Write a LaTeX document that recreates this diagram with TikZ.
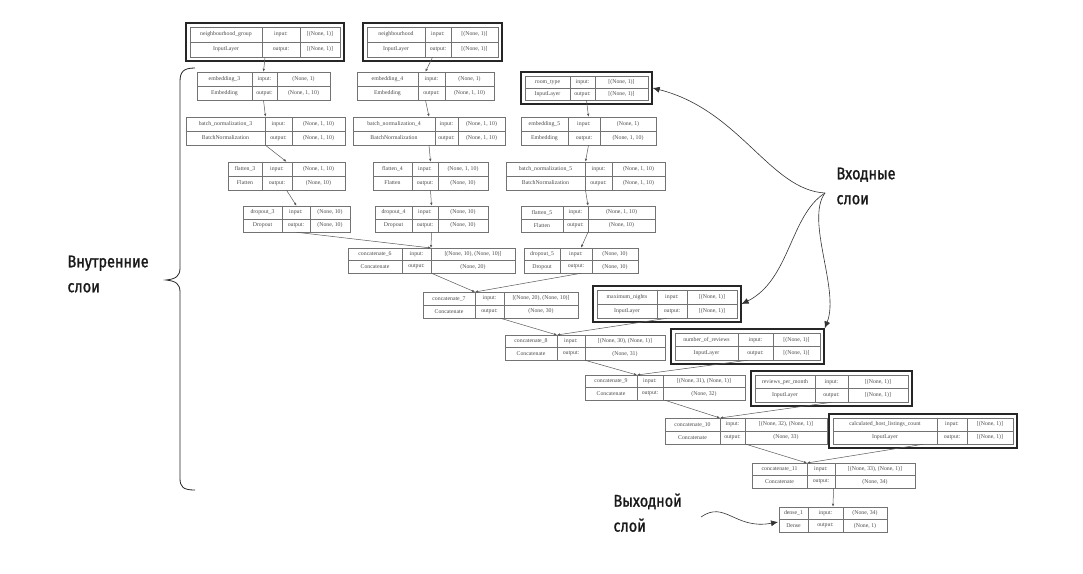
\documentclass[tikz,border=0pt]{standalone}
\usepackage{fontspec}
\setmainfont{Liberation Serif}
\newfontfamily\lab{Fira Sans}[FakeStretch=0.85,FakeBold=1.2]
\usetikzlibrary{fit,arrows.meta}
\tikzset{
 box/.style={draw=black!55,line width=0.5pt,inner sep=0pt},
 frame/.style={draw=black!85,line width=1.8pt,inner sep=3.5pt},
 tx/.style={font=\fontsize{5.8}{6}\selectfont,text=black!70,inner sep=0pt},
 edge/.style={draw=black!65,line width=0.5pt,-{Latex[length=3pt,width=2.5pt]}},
 ann/.style={draw=black!80,line width=0.6pt,-{Latex[length=7pt,width=6pt]}},
 big/.style={font=\lab\fontsize{17}{25}\selectfont,align=left,text=black!90}
}
% name x1 y1 x2 y2 c1 c2 top class in out
\newcommand\lay[9]{%
 \coordinate (#1-tl) at (#2,#3); \coordinate (#1-br) at (#4,#5);
 \node[box,fit=(#1-tl)(#1-br)] (#1) {};
 \draw[black!55,line width=0.5pt] (#6,#3)--(#6,#5) (#7,#3)--(#7,#5) (#2,{(#3+#5)/2})--(#4,{(#3+#5)/2});
 \coordinate (#1-in) at (#6,#3);
 \node[tx] at ({(#2+#6)/2},{(3*#3+#5)/4}) {#8};
 \node[tx] at ({(#2+#6)/2},{(#3+3*#5)/4}) {#9};
 \node[tx] at ({(#6+#7)/2},{(3*#3+#5)/4}) {input:};
 \node[tx] at ({(#6+#7)/2},{(#3+3*#5)/4}) {output:};
 \laytail{#1}{#2}{#3}{#4}{#5}{#7}}
\newcommand\laytail[6]{\def\lx{#6}\def\rx{#4}\def\ta{#3}\def\tb{#5}\laytxt}
\newcommand\laytxt[2]{%
 \node[tx] at ({(\lx+\rx)/2},{(3*\ta+\tb)/4}) {#1};
 \node[tx] at ({(\lx+\rx)/2},{(\ta+3*\tb)/4}) {#2};}
\begin{document}
\begin{tikzpicture}[x=1pt,y=-1pt]
\useasboundingbox (0,0) rectangle (1083,573);
\fill[white] (0,0) rectangle (1083,573);

\lay{ng}{190}{27}{340}{57}{262}{300}{neighbourhood\_group}{InputLayer}{[(None, 1)]}{[(None, 1)]}
\lay{nb}{367}{27}{498}{57}{425}{451}{neighbourhood}{InputLayer}{[(None, 1)]}{[(None, 1)]}
\lay{e3}{197}{72}{330}{100}{252}{277}{embedding\_3}{Embedding}{(None, 1)}{(None, 1, 10)}
\lay{e4}{357}{72}{494}{100}{418}{445}{embedding\_4}{Embedding}{(None, 1)}{(None, 1, 10)}
\lay{rt}{525}{76}{648}{100}{570}{595}{room\_type}{InputLayer}{[(None, 1)]}{[(None, 1)]}
\lay{b3}{186}{117}{345}{145}{265}{292}{batch\_normalization\_3}{BatchNormalization}{(None, 1, 10)}{(None, 1, 10)}
\lay{b4}{353}{117}{505}{145}{435}{458}{batch\_normalization\_4}{BatchNormalization}{(None, 1, 10)}{(None, 1, 10)}
\lay{e5}{521}{117}{656}{145}{568}{600}{embedding\_5}{Embedding}{(None, 1)}{(None, 1, 10)}
\lay{f3}{228}{162}{345}{190}{262}{292}{flatten\_3}{Flatten}{(None, 1, 10)}{(None, 10)}
\lay{f4}{373}{162}{488}{190}{412}{438}{flatten\_4}{Flatten}{(None, 1, 10)}{(None, 10)}
\lay{b5}{506}{162}{665}{190}{585}{612}{batch\_normalization\_5}{BatchNormalization}{(None, 1, 10)}{(None, 1, 10)}
\lay{d3}{243}{206}{350}{232}{282}{310}{dropout\_3}{Dropout}{(None, 10)}{(None, 10)}
\lay{d4}{375}{206}{488}{232}{412}{438}{dropout\_4}{Dropout}{(None, 10)}{(None, 10)}
\lay{f5}{521}{206}{655}{232}{563}{588}{flatten\_5}{Flatten}{(None, 1, 10)}{(None, 10)}
\lay{c6}{348}{248}{515}{273}{402}{431}{concatenate\_6}{Concatenate}{[(None, 10), (None, 10)]}{(None, 20)}
\lay{d5}{524}{248}{638}{273}{560}{592}{dropout\_5}{Dropout}{(None, 10)}{(None, 10)}
\lay{c7}{423}{292}{578}{318}{475}{504}{concatenate\_7}{Concatenate}{[(None, 20), (None, 10)]}{(None, 30)}
\lay{mn}{597}{290}{737}{318}{657}{687}{maximum\_nights}{InputLayer}{[(None, 1)]}{[(None, 1)]}
\lay{c8}{505}{335}{665}{360}{557}{585}{concatenate\_8}{Concatenate}{[(None, 30), (None, 1)]}{(None, 31)}
\lay{nr}{675}{333}{820}{360}{738}{773}{number\_of\_reviews}{InputLayer}{[(None, 1)]}{[(None, 1)]}
\lay{c9}{585}{375}{745}{400}{637}{663}{concatenate\_9}{Concatenate}{[(None, 31), (None, 1)]}{(None, 32)}
\lay{rp}{755}{375}{908}{402}{815}{848}{reviews\_per\_month}{InputLayer}{[(None, 1)]}{[(None, 1)]}
\lay{c10}{665}{418}{827}{444}{720}{745}{concatenate\_10}{Concatenate}{[(None, 32), (None, 1)]}{(None, 33)}
\lay{ch}{833}{418}{1013}{444}{937}{967}{calculated\_host\_listings\_count}{InputLayer}{[(None, 1)]}{[(None, 1)]}
\lay{c11}{752}{463}{915}{488}{807}{835}{concatenate\_11}{Concatenate}{[(None, 33), (None, 1)]}{(None, 34)}
\lay{de}{779}{507}{887}{532}{808}{843}{dense\_1}{Dense}{(None, 34)}{(None, 1)}

\foreach \n in {ng,nb,rt,mn,nr,rp,ch} \node[frame,fit=(\n)] (\n-f) {};

\foreach \a/\b in {ng/e3,nb/e4,e3/b3,e4/b4,rt/e5,b3/f3,b4/f4,e5/b5,f3/d3,f4/d4,b5/f5,f5/d5,c11/de}
  \draw[edge] (\a.south) -- (\b.north);
\coordinate (c6top) at (431,248);
\foreach \a in {d3,d4} \draw[edge] (\a.south) -- (c6top);
\foreach \a/\b in {c6/c7,d5/c7,c7/c8,mn/c8,c8/c9,nr/c9,c9/c10,rp/c10,c10/c11,ch/c11}
  \draw[edge] (\a.south) -- (\b-in);

% brace
\draw[black!85,line width=0.8pt] (195,68) .. controls (183,68) and (180,72) .. (180,82)
  -- (180,268) .. controls (180,276) and (176,279) .. (166,280)
  .. controls (176,281) and (180,284) .. (180,292) -- (180,478)
  .. controls (180,487) and (183,490) .. (195,490);
\node[big,anchor=north west] (inner) at (64,252) {Внутренние\\слои};
\node[big,anchor=north west] (inputs) at (833,164) {Входные\\слои};
\node[big,anchor=north west] (outl) at (610,490) {Выходной\\слой};
\coordinate (hub) at (825,193);
\draw[ann] (hub) .. controls (770,190) and (740,110) .. (rt-f.east);
\draw[ann] (hub) .. controls (790,215) and (790,280) .. (mn-f.east);
\draw[ann] (hub) .. controls (805,220) and (840,290) .. (nr-f.north east);
\draw[ann] (701,517) .. controls (725,500) and (735,530) .. (778,522);
\end{tikzpicture}
\end{document}
